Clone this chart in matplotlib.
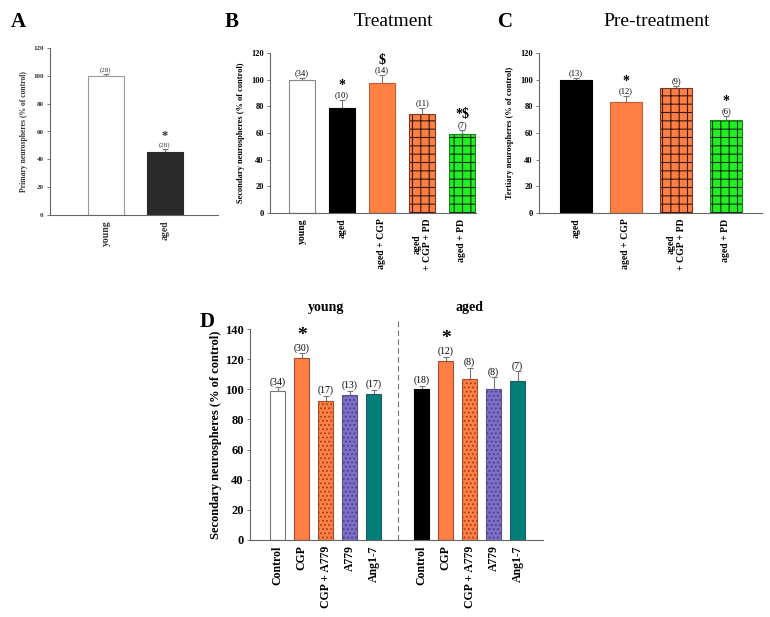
import matplotlib
matplotlib.use("Agg")
import matplotlib.pyplot as plt
import numpy as np

plt.rcParams['font.family'] = ['Liberation Serif', 'DejaVu Serif']
plt.rcParams['hatch.linewidth'] = 0.8

# ---------- data ----------
a_labels = ["young", "aged"]
a_values = [100, 45]
a_err = [1.5, 2.5]
a_n = ["(28)", "(28)"]
a_sig = ["", "*"]

b_labels = ["young", "aged", "aged + CGP", "aged\n+ CGP + PD", "aged + PD"]
b_values = [100, 78.5, 97.5, 74.5, 59]
b_err = [1.5, 6, 6, 4.5, 3.5]
b_n = ["(34)", "(10)", "(14)", "(11)", "(7)"]
b_sig = ["", "*", "$", "", "*$"]

c_labels = ["aged", "aged + CGP", "aged\n+ CGP + PD", "aged + PD"]
c_values = [100, 83, 93.5, 70]
c_err = [1.5, 4.5, 2, 2.5]
c_n = ["(13)", "(12)", "(9)", "(6)"]
c_sig = ["", "*", "", "*"]

d_labels = ["Control", "CGP", "CGP + A779", "A779", "Ang1-7"]
d_young = [99, 121, 92.5, 96, 97]
d_young_err = [2.2, 2.8, 3.2, 3.0, 2.5]
d_young_n = ["(34)", "(30)", "(17)", "(13)", "(17)"]
d_young_sig = ["", "*", "", "", ""]
d_aged = [100.5, 119, 106.5, 100, 105.5]
d_aged_err = [2.0, 2.5, 7.5, 8.0, 6.5]
d_aged_n = ["(18)", "(12)", "(8)", "(8)", "(7)"]
d_aged_sig = ["", "*", "", "", ""]

ORANGE = "#ff7f45"
GREEN = "#22ee22"
PURPLE = "#7b70c4"
TEAL = "#007f7a"

fig = plt.figure(figsize=(7.7, 6.17), dpi=100)
W, H = 770, 617


def add_axes(left, right, top, bottom):
    return fig.add_axes([left / W, 1 - bottom / H, (right - left) / W, (bottom - top) / H])


def style(ax, tfs, tcolor="black"):
    for s in ["top", "right"]:
        ax.spines[s].set_visible(False)
    for s in ["left", "bottom"]:
        ax.spines[s].set_color("#666666")
        ax.spines[s].set_linewidth(0.8)
    ax.tick_params(axis="y", length=2.5, width=0.6, color="#666666", labelsize=tfs, pad=2,
                   labelcolor=tcolor)
    ax.tick_params(axis="x", length=0, labelsize=tfs + 1, pad=4, labelcolor=tcolor)
    for lab in ax.get_yticklabels() + ax.get_xticklabels():
        lab.set_fontweight("bold")


def draw_bars(ax, xs, vals, errs, faces, hatches, hcolors, edges, width):
    for x, v, f, h, hc, e in zip(xs, vals, faces, hatches, hcolors, edges):
        if h:
            ax.bar(x, v, width, color=f, hatch=h, edgecolor=hc, linewidth=0, zorder=2)
            ax.bar(x, v, width, fill=False, edgecolor=e, linewidth=0.8, zorder=3)
        else:
            ax.bar(x, v, width, color=f, edgecolor=e, linewidth=0.8, zorder=2)
    ax.errorbar(xs, vals, yerr=[np.zeros(len(vals)), errs], fmt="none",
                ecolor="#777777", elinewidth=0.8, capsize=2.5, capthick=0.8, zorder=1)


def annotate(ax, xs, vals, errs, ns, sigs, nfs, sfs, color="black", sig_off=1.0):
    for x, v, e, n, s in zip(xs, vals, errs, ns, sigs):
        top = v + e
        ax.annotate(n, (x, top), xytext=(0, 0.5), textcoords="offset points",
                    ha="center", va="bottom", fontsize=nfs, color=color)
        if s:
            ax.annotate(s, (x, top), xytext=(0, nfs + sig_off), textcoords="offset points",
                        ha="center", va="bottom", fontsize=sfs, fontweight="bold", color=color)


# ---------- Panel A ----------
axA = add_axes(50, 218, 48, 215)
xa = np.arange(len(a_values))
draw_bars(axA, xa, a_values, a_err, ["white", "#2a2a2a"], [None, None], [None, None],
          ["#999999", "#2a2a2a"], 0.61)
axA.set_xlim(-0.95, 1.9)
axA.set_ylim(0, 120)
axA.set_yticks(range(0, 121, 20))
axA.set_xticks(xa)
axA.set_xticklabels(a_labels, rotation=90)
style(axA, 5, "#333333")
axA.tick_params(axis="x", labelsize=7)
axA.set_ylabel("Primary neurospheres (% of control)", fontsize=5.5, fontweight="bold",
               color="#333333", labelpad=4)
annotate(axA, xa, a_values, a_err, a_n, a_sig, 5, 9, color="#333333", sig_off=0)
fig.text(18 / W, 1 - 22 / H, "A", fontsize=15, fontweight="bold", ha="center", va="center")

# ---------- Panel B ----------
axB = add_axes(270, 476, 53, 213)
xb = np.arange(len(b_values))
draw_bars(axB, xb, b_values, b_err,
          ["white", "black", ORANGE, ORANGE, GREEN],
          [None, None, None, "++", "++"],
          [None, None, None, "#3a1a10", "#103010"],
          ["#888888", "black", "#c06030", "#7a3a20", "#208020"], 0.65)
axB.set_xlim(-0.8, 4.35)
axB.set_ylim(0, 120)
axB.set_yticks(range(0, 121, 20))
axB.set_xticks(xb)
axB.set_xticklabels(b_labels, rotation=90, multialignment="center")
style(axB, 6)
axB.set_ylabel("Secondary neurospheres (% of control)", fontsize=6, fontweight="bold", labelpad=4)
annotate(axB, xb, b_values, b_err, b_n, b_sig, 6, 10, sig_off=0)
fig.text(232 / W, 1 - 22 / H, "B", fontsize=15, fontweight="bold", ha="center", va="center")
fig.text(393 / W, 1 - 22 / H, "Treatment", fontsize=14, ha="center", va="center")

# ---------- Panel C ----------
axC = add_axes(539, 762, 53, 213)
xc = np.arange(len(c_values))
draw_bars(axC, xc, c_values, c_err,
          ["black", ORANGE, ORANGE, GREEN],
          [None, None, "++", "++"],
          [None, None, "#3a1a10", "#103010"],
          ["black", "#c06030", "#7a3a20", "#208020"], 0.64)
axC.set_xlim(-0.74, 3.72)
axC.set_ylim(0, 120)
axC.set_yticks(range(0, 121, 20))
axC.set_xticks(xc)
axC.set_xticklabels(c_labels, rotation=90, multialignment="center")
style(axC, 6)
axC.set_ylabel("Tertiary neurospheres (% of control)", fontsize=6, fontweight="bold", labelpad=4)
annotate(axC, xc, c_values, c_err, c_n, c_sig, 6, 10, sig_off=0)
fig.text(505 / W, 1 - 22 / H, "C", fontsize=15, fontweight="bold", ha="center", va="center")
fig.text(657 / W, 1 - 22 / H, "Pre-treatment", fontsize=14, ha="center", va="center")

# ---------- Panel D ----------
axD = add_axes(250, 543, 329, 540)
xdy = np.arange(5)
xda = np.arange(5) + 6
faces_y = ["white", ORANGE, ORANGE, PURPLE, TEAL]
faces_a = ["black", ORANGE, ORANGE, PURPLE, TEAL]
hatch_d = [None, None, "....", "....", None]
hcol_d = [None, None, "#a04018", "#4a3a90", None]
edges_y = ["#777777", "#a05030", "#a05030", "#5a5090", "#2a5a58"]
edges_a = ["black", "#a05030", "#a05030", "#5a5090", "#2a5a58"]
draw_bars(axD, xdy, d_young, d_young_err, faces_y, hatch_d, hcol_d, edges_y, 0.62)
draw_bars(axD, xda, d_aged, d_aged_err, faces_a, hatch_d, hcol_d, edges_a, 0.62)
axD.set_xlim(-1.15, 11.06)
axD.set_ylim(0, 140)
axD.set_yticks(range(0, 141, 20))
axD.set_xticks(list(xdy) + list(xda))
axD.set_xticklabels(d_labels + d_labels, rotation=90)
style(axD, 9)
axD.tick_params(axis="x", labelsize=8.5)
axD.set_ylabel("Secondary neurospheres (% of control)", fontsize=9, fontweight="bold", labelpad=2)
annotate(axD, xdy, d_young, d_young_err, d_young_n, d_young_sig, 7, 14, sig_off=0)
annotate(axD, xda, d_aged, d_aged_err, d_aged_n, d_aged_sig, 7, 14, sig_off=0)
axD.plot([5, 5], [0, 145], ls=(0, (5, 3)), color="#777777", lw=0.8, clip_on=False)
axD.text(2, 1.10, "young", transform=axD.get_xaxis_transform(), ha="center", va="center",
         fontsize=10, fontweight="bold")
axD.text(8, 1.10, "aged", transform=axD.get_xaxis_transform(), ha="center", va="center",
         fontsize=10, fontweight="bold")
fig.text(207 / W, 1 - 322 / H, "D", fontsize=15, fontweight="bold", ha="center", va="center")

fig.savefig("out.png", dpi=100, facecolor="white")
